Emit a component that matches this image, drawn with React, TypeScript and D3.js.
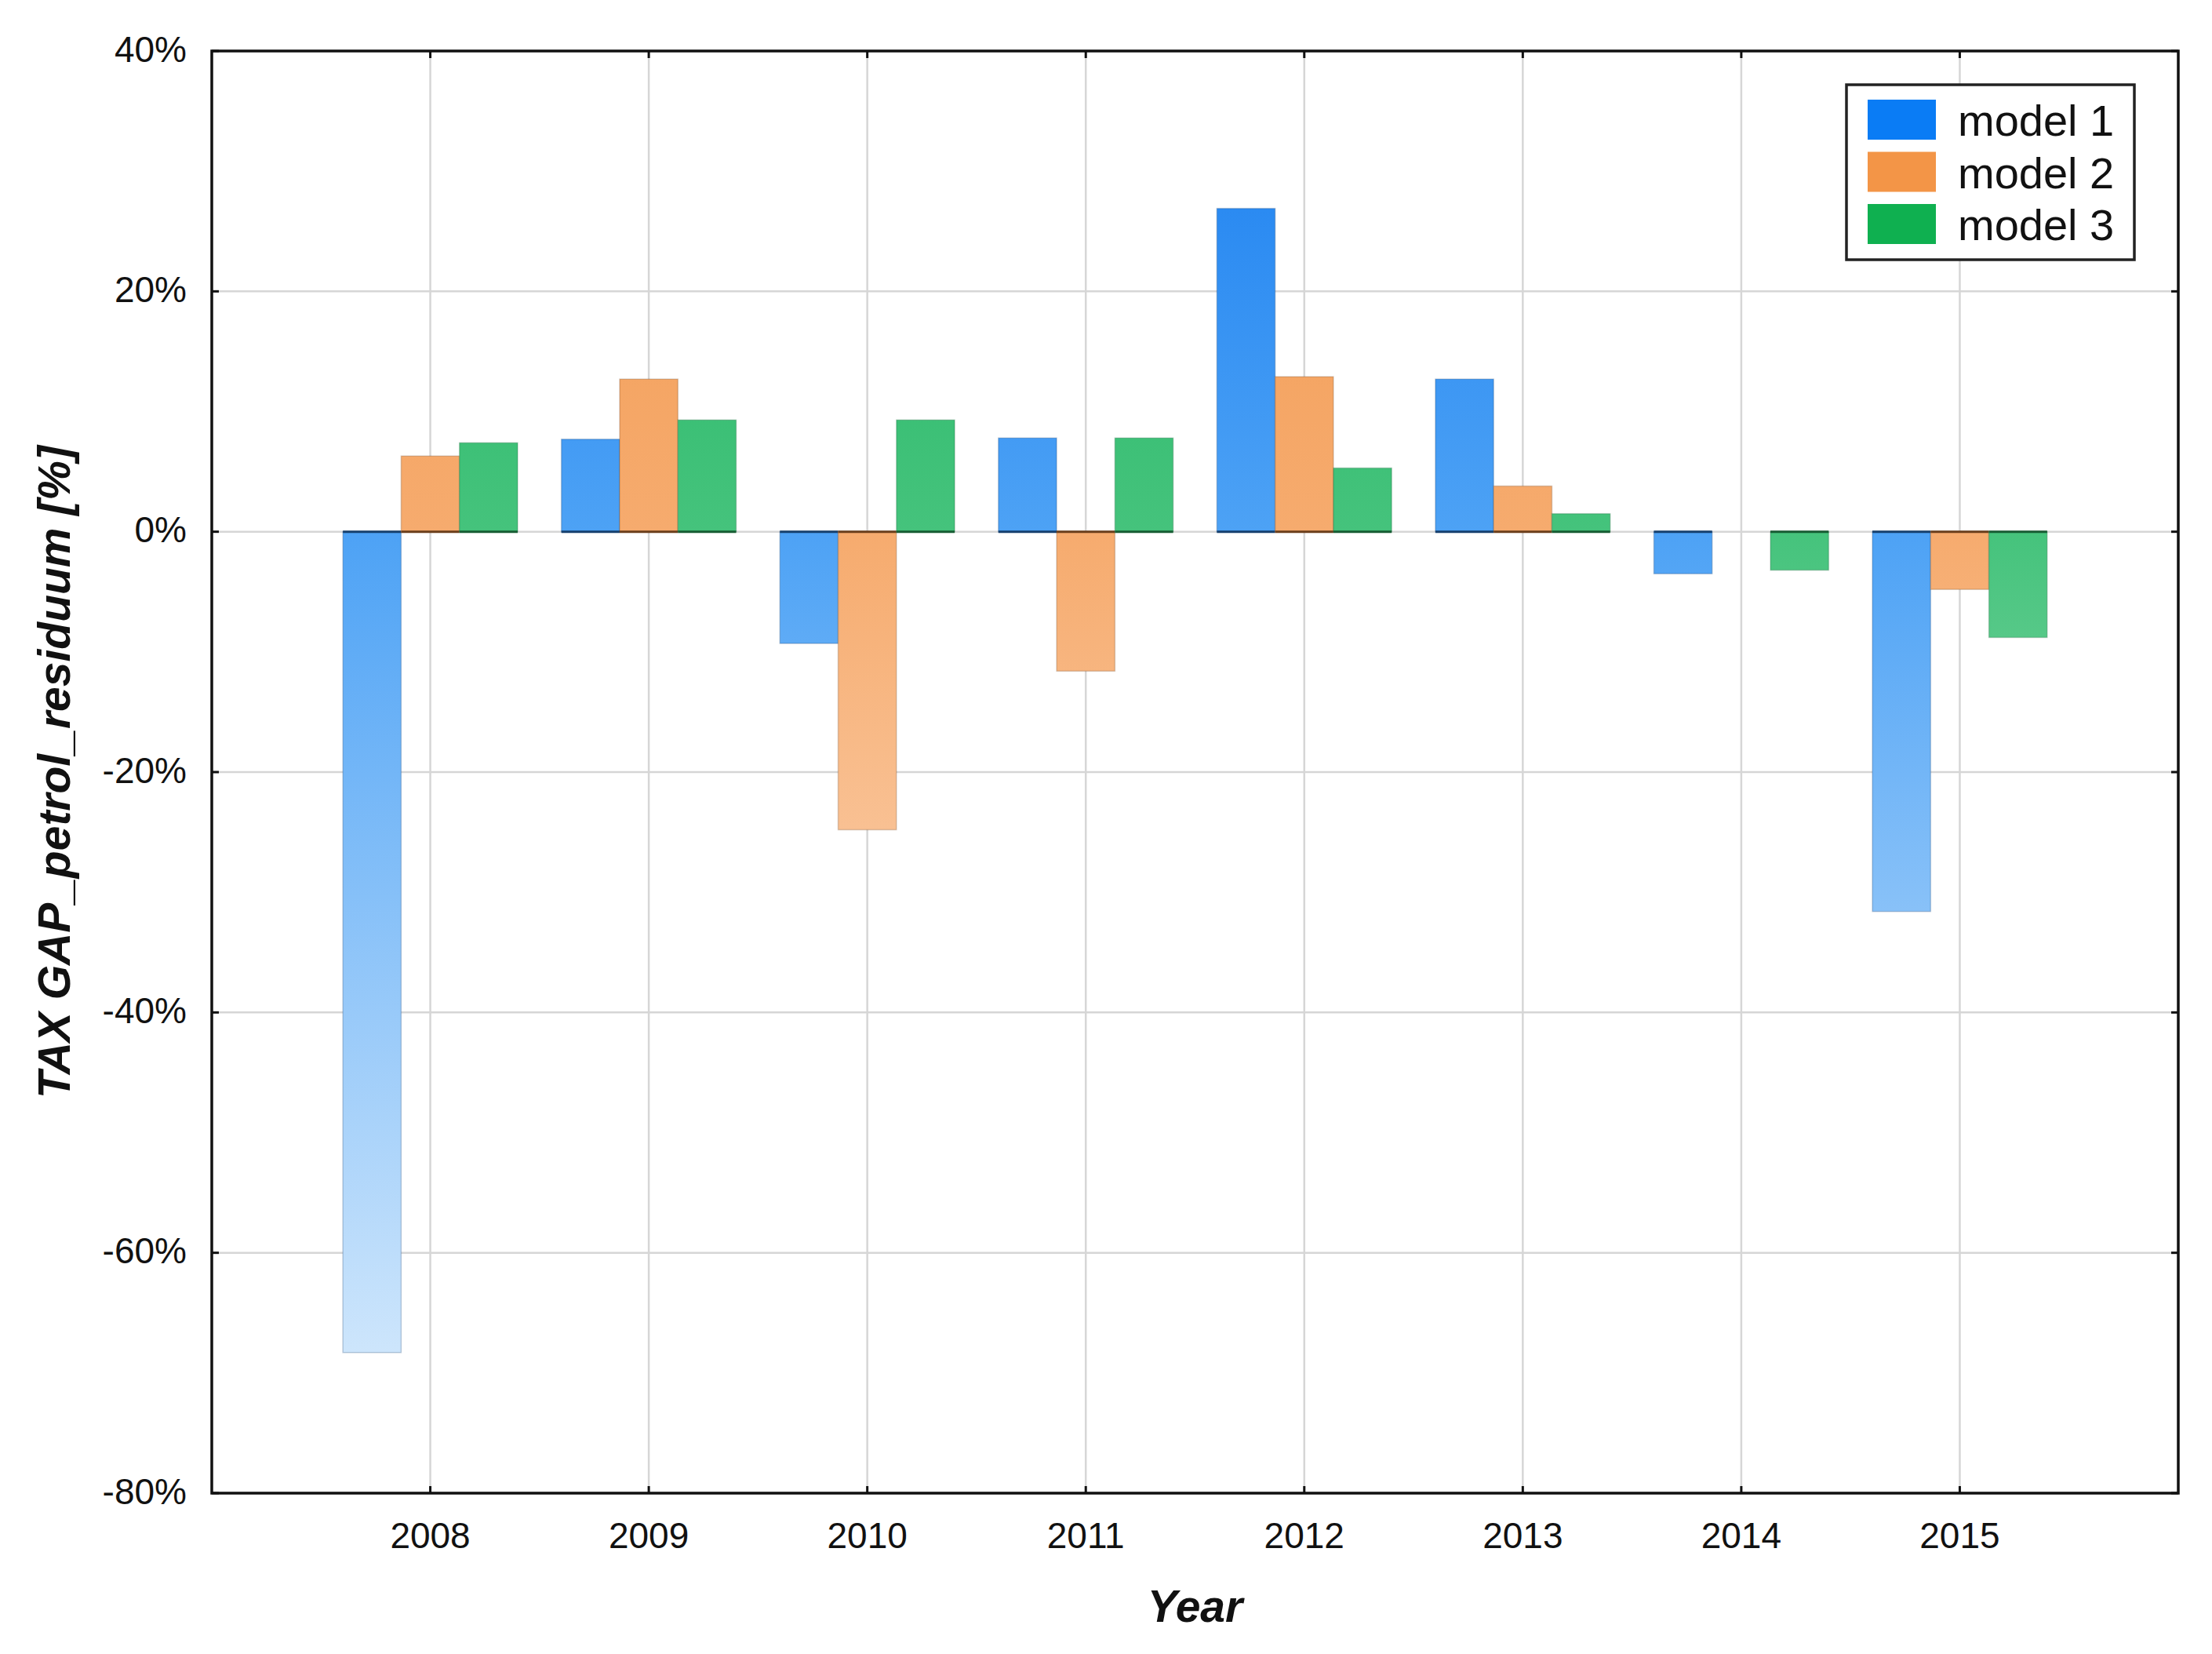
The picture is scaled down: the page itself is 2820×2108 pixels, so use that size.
import { useEffect } from 'react';
import * as d3 from 'd3';

const years = [2008, 2009, 2010, 2011, 2012, 2013, 2014, 2015];
const seriesNames = ['model 1', 'model 2', 'model 3'];
const model1 = [-68.3, 7.7, -9.3, 7.8, 26.9, 12.7, -3.5, -31.6];
const model2 = [6.3, 12.7, -24.8, -11.6, 12.9, 3.8, 0, -4.8];
const model3 = [7.4, 9.3, 9.3, 7.8, 5.3, 1.5, -3.2, -8.8];
const yTicks = [40, 20, 0, -20, -40, -60, -80];

const legendColors = ['#0a7cf5', '#f39547', '#0fb050'];
// gradient stops: top of plot, zero line, bottom of plot
const gradStops = [
  ['#1a7ff0', '#4da2f5', '#e3f1fd'],
  ['#f29a50', '#f6ab6e', '#fff0e4'],
  ['#1db562', '#45c37c', '#e0f5e8'],
];
const edgeColors = ['#16406e', '#6b3f1c', '#175c33'];

const W = 2820;
const H = 2108;
const margin = { left: 270, right: 43, top: 65, bottom: 205 };
const font = '"Liberation Sans", Arial, sans-serif';

export default function App() {
  useEffect(() => {
    document.body.style.margin = '0';
  }, []);

  const x = d3.scaleLinear().domain([2007, 2016]).range([margin.left, W - margin.right]);
  const y = d3.scaleLinear().domain([-80, 40]).range([H - margin.bottom, margin.top]);
  const series = [model1, model2, model3];
  const barW = 0.8 / 3;
  const x0 = margin.left;
  const x1 = W - margin.right;
  const y0 = margin.top;
  const y1 = H - margin.bottom;
  const tick = 9;

  return (
    <svg width={W} height={H} style={{ display: 'block', background: '#fff' }}>
      <defs>
        {gradStops.map((s, i) => (
          <linearGradient
            key={i}
            id={`grad${i}`}
            gradientUnits="userSpaceOnUse"
            x1={0}
            x2={0}
            y1={y(40)}
            y2={y(-80)}
          >
            <stop offset={0} stopColor={s[0]} />
            <stop offset={(y(0) - y(40)) / (y(-80) - y(40))} stopColor={s[1]} />
            <stop offset={1} stopColor={s[2]} />
          </linearGradient>
        ))}
      </defs>

      {/* grid */}
      {yTicks.map((t) => (
        <line key={`gy${t}`} x1={x0} x2={x1} y1={y(t)} y2={y(t)} stroke="#d6d6d6" strokeWidth={2.5} />
      ))}
      {years.map((yr) => (
        <line key={`gx${yr}`} x1={x(yr)} x2={x(yr)} y1={y0} y2={y1} stroke="#d6d6d6" strokeWidth={2.5} />
      ))}

      {/* bars */}
      {series.map((vals, si) =>
        vals.map((v, i) => {
          if (v === 0) return null;
          const left = x(years[i] - 0.4 + si * barW);
          const w = x(years[i] - 0.4 + (si + 1) * barW) - left;
          const top = Math.min(y(v), y(0));
          const h = Math.abs(y(v) - y(0));
          return (
            <g key={`b${si}-${i}`}>
              <rect
                x={left}
                y={top}
                width={w}
                height={h}
                fill={`url(#grad${si})`}
                stroke={edgeColors[si]}
                strokeOpacity={0.25}
                strokeWidth={1.5}
              />
              <line x1={left} x2={left + w} y1={y(0)} y2={y(0)} stroke={edgeColors[si]} strokeWidth={3} />
            </g>
          );
        })
      )}

      {/* ticks inward on all sides */}
      {yTicks.map((t) => (
        <g key={`ty${t}`}>
          <line x1={x0} x2={x0 + tick} y1={y(t)} y2={y(t)} stroke="#111" strokeWidth={3} />
          <line x1={x1 - tick} x2={x1} y1={y(t)} y2={y(t)} stroke="#111" strokeWidth={3} />
        </g>
      ))}
      {years.map((yr) => (
        <g key={`tx${yr}`}>
          <line x1={x(yr)} x2={x(yr)} y1={y1 - tick} y2={y1} stroke="#111" strokeWidth={3} />
          <line x1={x(yr)} x2={x(yr)} y1={y0} y2={y0 + tick} stroke="#111" strokeWidth={3} />
        </g>
      ))}

      {/* frame */}
      <rect x={x0} y={y0} width={x1 - x0} height={y1 - y0} fill="none" stroke="#111" strokeWidth={3.5} />

      {/* y tick labels */}
      {yTicks.map((t) => (
        <text
          key={`ly${t}`}
          x={238}
          y={y(t)}
          dy="0.3em"
          textAnchor="end"
          fontFamily={font}
          fontSize={46}
          fill="#111"
        >
          {`${t}%`}
        </text>
      ))}

      {/* x tick labels */}
      {years.map((yr) => (
        <text
          key={`lx${yr}`}
          x={x(yr)}
          y={1973}
          textAnchor="middle"
          fontFamily={font}
          fontSize={46}
          fill="#111"
        >
          {yr}
        </text>
      ))}

      {/* axis titles */}
      <text
        x={(x0 + x1) / 2}
        y={2067}
        textAnchor="middle"
        fontFamily={font}
        fontSize={57}
        fontWeight="bold"
        fontStyle="italic"
        fill="#111"
      >
        Year
      </text>
      <text
        transform={`translate(89,${(y0 + y1) / 2}) rotate(-90)`}
        textAnchor="middle"
        fontFamily={font}
        fontSize={57}
        fontWeight="bold"
        fontStyle="italic"
        fill="#111"
      >
        TAX GAP_petrol_residuum [%]
      </text>

      {/* legend */}
      <g>
        <rect x={2354} y={108} width={367} height={223} fill="#fff" stroke="#222" strokeWidth={3.5} />
        {seriesNames.map((name, i) => (
          <g key={name}>
            <rect x={2381} y={127 + i * 66.5} width={87} height={51} fill={legendColors[i]} />
            <text x={2496} y={173 + i * 66.5} fontFamily={font} fontSize={56} fill="#111">
              {name}
            </text>
          </g>
        ))}
      </g>
    </svg>
  );
}
